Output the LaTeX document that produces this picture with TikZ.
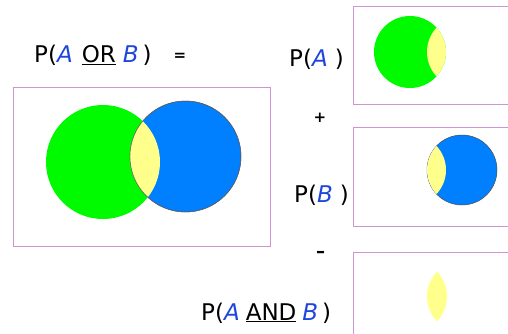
\documentclass[tikz,border=0pt]{standalone}
\usepackage{fontspec}
\setmainfont{DejaVu Sans}
\definecolor{gA}{RGB}{0,250,0}
\definecolor{bB}{RGB}{0,128,255}
\definecolor{yAB}{RGB}{255,255,140}
\definecolor{frame}{RGB}{205,150,210}
\definecolor{letter}{RGB}{30,70,220}
\newcommand{\LA}{\textcolor{letter}{\textit{A}}}
\newcommand{\LB}{\textcolor{letter}{\textit{B}}}
\tikzset{
  panel/.style={draw=frame, line width=0.9pt},
  lbl/.style={anchor=base west, font=\fontsize{23}{26}\selectfont, inner sep=0pt},
  opsym/.style={anchor=center, font=\fontsize{15}{18}\selectfont\bfseries, inner sep=0pt},
  circA/.style={fill=gA},
  circB/.style={fill=bB, draw=black!70, line width=0.5pt},
  lens/.style={fill=yAB},
}
\begin{document}
\begin{tikzpicture}[x=1pt,y=-1pt]
\useasboundingbox (0,0) rectangle (508,333);
\clip (0,0) rectangle (508,333);
% big panel
\node[panel, minimum width=257pt, minimum height=159pt, inner sep=0pt] (big) at (141.5,166.5) {};
\fill[circA] (103,162) circle (57);
\draw[circB] (185.5,156.5) circle (55.5);
\begin{scope}
  \clip (103,162) circle (57);
  \fill[lens] (185.5,156.5) circle (55.5);
\end{scope}
\draw[black!60, line width=0.4pt] (185.5,156.5) circle (55.5);
% panel A
\node[panel, minimum width=170pt, minimum height=98pt, inner sep=0pt] (pa) at (438,55) {};
\fill[circA] (410,52) circle (36);
\begin{scope}
  \clip (410,52) circle (36);
  \fill[lens] (463,52) circle (36);
\end{scope}
% panel B
\node[panel, minimum width=170pt, minimum height=99pt, inner sep=0pt] (pb) at (438,176.5) {};
\draw[circB] (462,170) circle (35);
\begin{scope}
  \clip (462,170) circle (35);
  \fill[lens] (411,170) circle (35);
\end{scope}
% panel AB
\node[panel, minimum width=170pt, minimum height=100pt, inner sep=0pt] (pab) at (438,302) {};
\begin{scope}
  \clip (411,296.5) circle (36);
  \fill[lens] (463,296.5) circle (36);
\end{scope}
% labels
\node[lbl] (tor) at (34,62) {P(\LA\hspace{9pt}\underline{OR}\hspace{7pt}\LB\hspace{4pt})\hspace{22pt}\raisebox{2pt}{\fontsize{15}{17}\selectfont\bfseries =}};
\node[lbl] (ta) at (289,66) {P(\LA\hspace{7pt})};
\node[opsym] (plus) at (320,118) {+};
\node[lbl] (tb) at (294,202) {P(\LB\hspace{7pt})};
\node[opsym, font=\fontsize{18}{20}\selectfont\bfseries] (minus) at (320.5,254) {\textendash};
\node[lbl] (tab) at (201,320) {P(\LA\hspace{6pt}\underline{AND}\hspace{6pt}\LB\hspace{4pt})};
\end{tikzpicture}
\end{document}
